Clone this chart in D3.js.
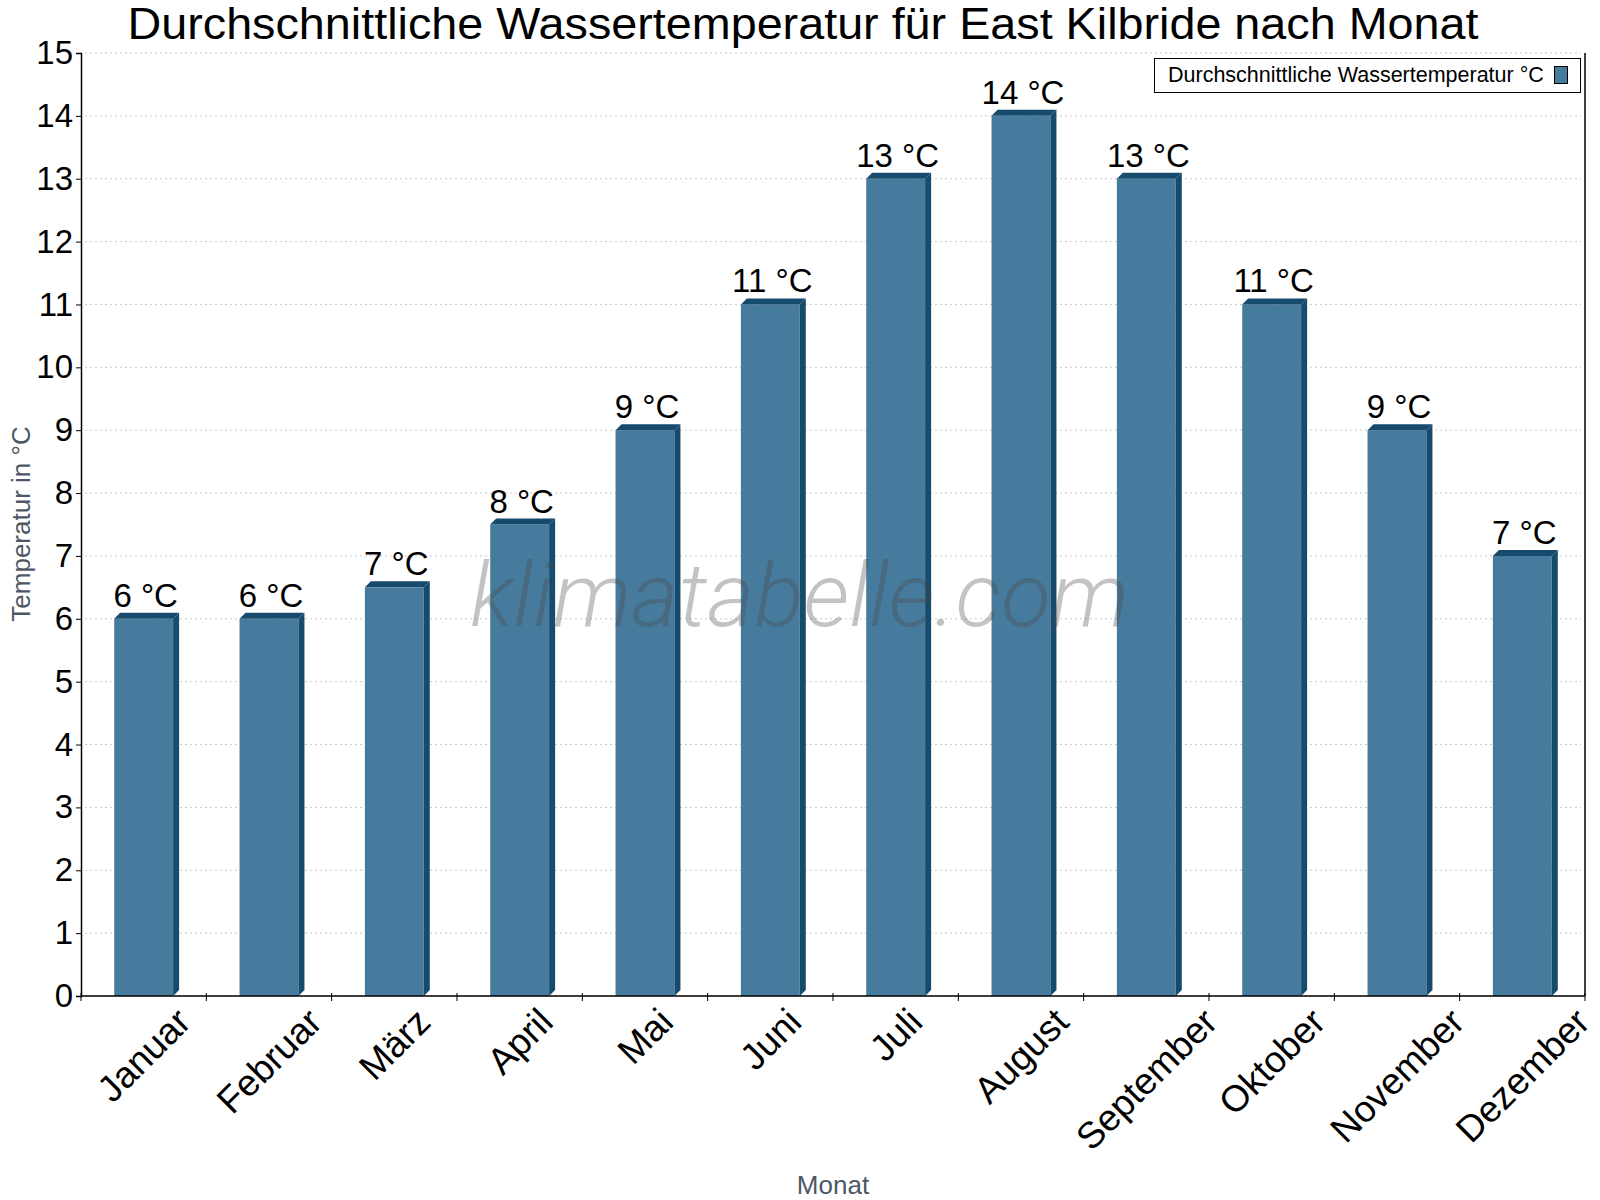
<!DOCTYPE html>
<html>
<head>
<meta charset="utf-8">
<script src="https://cdn.jsdelivr.net/npm/d3@7"></script>
<style>
  body { margin: 0; background: #fff; }
  svg { display: block; font-family: "Liberation Sans", Arial, sans-serif; }
</style>
</head>
<body>
<svg id="chart" width="1600" height="1200"></svg>
<script>
// Data
const months = ["Januar", "Februar", "März", "April", "Mai", "Juni", "Juli",
  "August", "September", "Oktober", "November", "Dezember"];
const waterTemp = [6, 6, 6.5, 7.5, 9, 11, 13, 14, 13, 11, 9, 7];
const yTicks = d3.range(0, 16);

const title = "Durchschnittliche Wassertemperatur für East Kilbride nach Monat";
const seriesName = "Durchschnittliche Wassertemperatur °C";

const svg = d3.select("#chart");
const plotLeft = 81, plotRight = 1585, plotTop = 53, plotBottom = 996;

const x = d3.scaleBand().domain(months).range([plotLeft, plotRight]).padding(0);
const y = d3.scaleLinear().domain([0, 15]).range([plotBottom, plotTop]);

const front = "#477b9d", dark = "#174b6d";
const depth = 6;
const barW = x.bandwidth() * 0.47;

// Grid lines
svg.append("g")
  .selectAll("line")
  .data(yTicks)
  .join("line")
  .attr("x1", plotLeft + 4)
  .attr("x2", plotRight - 4)
  .attr("y1", d => y(d))
  .attr("y2", d => y(d))
  .attr("stroke", "#c8c8c8")
  .attr("stroke-dasharray", "2,3");

// Bars (pseudo 3D)
const bars = svg.append("g").selectAll("g")
  .data(months.map((m, i) => ({ m, v: waterTemp[i] })))
  .join("g");

bars.each(function (d) {
  const g = d3.select(this);
  const cx = x(d.m) + x.bandwidth() / 2;
  const x0 = cx - barW / 2, x1 = cx + barW / 2;
  const yt = y(d.v), yb = y(0);
  g.append("rect")
    .attr("x", x0).attr("y", yt)
    .attr("width", x1 - x0).attr("height", yb - yt)
    .attr("fill", front);
  g.append("path")
    .attr("d", `M${x0},${yt}L${x0 + depth},${yt - depth}L${x1 + depth},${yt - depth}L${x1},${yt}Z`)
    .attr("fill", dark);
  g.append("path")
    .attr("d", `M${x1},${yt}L${x1 + depth},${yt - depth}L${x1 + depth},${yb - depth}L${x1},${yb}Z`)
    .attr("fill", dark);
  g.append("text")
    .attr("x", cx + 2)
    .attr("y", yt - depth - 6)
    .attr("text-anchor", "middle")
    .attr("font-size", 33)
    .attr("fill", "#000")
    .text(Math.round(d.v) + " °C");
});

// Watermark
svg.append("text")
  .attr("x", 470)
  .attr("y", 626)
  .attr("textLength", 659)
  .attr("lengthAdjust", "spacingAndGlyphs")
  .attr("font-family", "Roboto, sans-serif")
  .attr("font-weight", 300)
  .attr("font-style", "italic")
  .attr("font-size", 88)
  .attr("fill", "#4a4a4a")
  .attr("fill-opacity", 0.33)
  .text("klimatabelle.com");

// Y axis
const yAxis = svg.append("g")
  .attr("transform", `translate(${plotLeft},0)`)
  .call(d3.axisLeft(y).tickValues(yTicks).tickSize(5).tickPadding(3).tickFormat(d3.format("d")));
yAxis.select(".domain").attr("stroke", "#000").attr("stroke-width", 1.5);
yAxis.selectAll(".tick line").attr("stroke", "#000");
yAxis.selectAll("text").attr("font-size", 33).attr("fill", "#000")
  .attr("font-family", "'Liberation Sans', Arial, sans-serif");

// X axis line, right border and ticks at band boundaries
svg.append("line")
  .attr("x1", plotLeft).attr("x2", plotRight)
  .attr("y1", plotBottom).attr("y2", plotBottom)
  .attr("stroke", "#000").attr("stroke-width", 1.5);
svg.append("line")
  .attr("x1", plotRight).attr("x2", plotRight)
  .attr("y1", plotTop).attr("y2", plotBottom)
  .attr("stroke", "#000").attr("stroke-width", 1.5);
svg.append("g").selectAll("line")
  .data(months.map(m => x(m)).concat([plotRight]))
  .join("line")
  .attr("x1", d => d).attr("x2", d => d)
  .attr("y1", plotBottom - 3).attr("y2", plotBottom + 5)
  .attr("stroke", "#000");

// X tick labels, rotated
const xl = svg.append("g").selectAll("text")
  .data(months)
  .join("text")
  .attr("text-anchor", "middle")
  .attr("dy", "0.35em")
  .attr("font-size", 37)
  .attr("fill", "#000")
  .text(d => d);
xl.attr("transform", function (d) {
  const L = this.getComputedTextLength();
  const cx = x(d) + x.bandwidth() / 2;
  const cy = plotBottom + 19 + L / 2 * Math.SQRT1_2;
  return `translate(${cx},${cy}) rotate(-45)`;
});

// Axis titles
svg.append("text")
  .attr("transform", "translate(30,524) rotate(-90)")
  .attr("text-anchor", "middle")
  .attr("font-size", 26)
  .attr("fill", "#4d5864")
  .text("Temperatur in °C");
svg.append("text")
  .attr("x", (plotLeft + plotRight) / 2)
  .attr("y", 1194)
  .attr("text-anchor", "middle")
  .attr("font-size", 26)
  .attr("fill", "#4d5864")
  .text("Monat");

// Title
svg.append("text")
  .attr("x", 803)
  .attr("y", 39)
  .attr("text-anchor", "middle")
  .attr("textLength", 1351)
  .attr("lengthAdjust", "spacingAndGlyphs")
  .attr("font-size", 44)
  .attr("fill", "#000")
  .text(title);

// Legend
const lg = svg.append("g");
lg.append("rect")
  .attr("x", 1154.5).attr("y", 58.5)
  .attr("width", 426).attr("height", 34)
  .attr("fill", "#fff").attr("stroke", "#000");
lg.append("text")
  .attr("x", 1168).attr("y", 82)
  .attr("font-size", 21.5)
  .attr("fill", "#000")
  .text(seriesName);
lg.append("rect")
  .attr("x", 1554.5).attr("y", 66.5)
  .attr("width", 13).attr("height", 17)
  .attr("fill", front).attr("stroke", "#000");
</script>
</body>
</html>
